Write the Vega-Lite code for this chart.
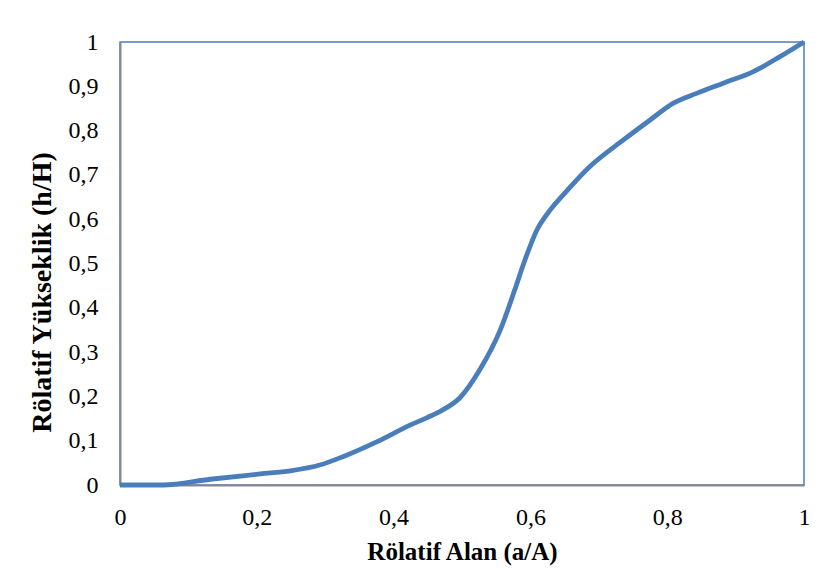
{
  "$schema": "https://vega.github.io/schema/vega-lite/v6.json",
  "width": 684,
  "height": 443,
  "autosize": {"type": "none"},
  "padding": {"left": 120, "top": 42, "right": 22, "bottom": 96},
  "background": "white",
  "config": {
    "view": {"stroke": "#4A7EBB", "strokeWidth": 1.5},
    "font": "Liberation Serif",
    "axis": {
      "grid": false,
      "ticks": false,
      "labelFlush": false,
      "labelOverlap": false,
      "domainColor": "#888888",
      "domainWidth": 2,
      "labelFont": "Liberation Serif",
      "labelFontSize": 24,
      "labelColor": "#000000",
      "titleFont": "Liberation Serif",
      "titleFontSize": 25,
      "titleFontWeight": "bold",
      "titleColor": "#000000",
      "zindex": 1
    }
  },
  "data": {
    "values": [
      {"a": 0.0, "h": 0.0},
      {"a": 0.063, "h": 0.0},
      {"a": 0.132, "h": 0.013},
      {"a": 0.205, "h": 0.025},
      {"a": 0.249, "h": 0.032},
      {"a": 0.292, "h": 0.045},
      {"a": 0.326, "h": 0.064},
      {"a": 0.376, "h": 0.098},
      {"a": 0.424, "h": 0.135},
      {"a": 0.449, "h": 0.152},
      {"a": 0.47, "h": 0.168},
      {"a": 0.497, "h": 0.197},
      {"a": 0.526, "h": 0.26},
      {"a": 0.556, "h": 0.35},
      {"a": 0.577, "h": 0.44},
      {"a": 0.592, "h": 0.508},
      {"a": 0.609, "h": 0.574},
      {"a": 0.629, "h": 0.621},
      {"a": 0.648, "h": 0.655},
      {"a": 0.687, "h": 0.719},
      {"a": 0.736, "h": 0.779},
      {"a": 0.775, "h": 0.824},
      {"a": 0.809, "h": 0.862},
      {"a": 0.843, "h": 0.884},
      {"a": 0.882, "h": 0.907},
      {"a": 0.926, "h": 0.933},
      {"a": 0.965, "h": 0.967},
      {"a": 1.0, "h": 1.0}
    ]
  },
  "mark": {"type": "line", "color": "#4A7EBB", "strokeWidth": 4.8, "interpolate": "monotone", "clip": false},
  "encoding": {
    "x": {
      "field": "a",
      "type": "quantitative",
      "scale": {"domain": [0, 1], "nice": false, "zero": false},
      "axis": {
        "title": "Rölatif Alan (a/A)",
        "values": [0, 0.2, 0.4, 0.6, 0.8, 1],
        "labelExpr": "replace(format(datum.value, '~g'), '.', ',')",
        "labelPadding": 20,
        "titlePadding": 10
      }
    },
    "y": {
      "field": "h",
      "type": "quantitative",
      "scale": {"domain": [0, 1], "nice": false, "zero": false},
      "axis": {
        "title": "Rölatif Yükseklik (h/H)",
        "values": [0, 0.1, 0.2, 0.3, 0.4, 0.5, 0.6, 0.7, 0.8, 0.9, 1],
        "labelExpr": "replace(format(datum.value, '~g'), '.', ',')",
        "labelPadding": 22,
        "titleFontSize": 28,
        "titleY": 250,
        "titlePadding": 12
      }
    }
  }
}
